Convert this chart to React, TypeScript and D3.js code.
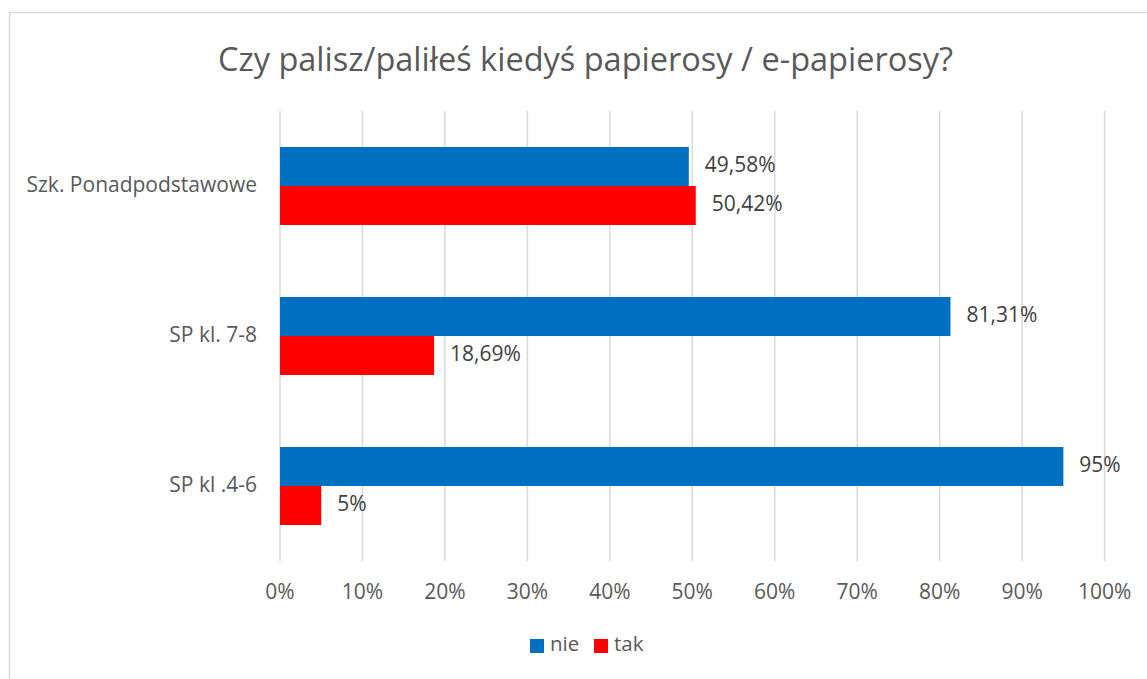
import React from "react";
import * as d3 from "d3";

const title = "Czy palisz/paliłeś kiedyś papierosy / e-papierosy?";
const categories = ["Szk. Ponadpodstawowe", "SP kl. 7-8", "SP kl .4-6"];
const seriesNames = ["nie", "tak"];
const nieValues = [49.58, 81.31, 95];
const takValues = [50.42, 18.69, 5];
const nieLabels = ["49,58%", "81,31%", "95%"];
const takLabels = ["50,42%", "18,69%", "5%"];
const tickValues = [0, 10, 20, 30, 40, 50, 60, 70, 80, 90, 100];
const colors = ["#0070C0", "#FF0000"];

const W = 1147;
const H = 679;
const FONT = "'Open Sans', sans-serif";

export default function App() {
  const x = d3.scaleLinear().domain([0, 100]).range([280, 1104.6]);
  const y = d3.scaleBand<string>().domain(categories).range([111, 561]).padding(0);
  const inner = d3.scaleBand<string>().domain(seriesNames).range([36, 114]).padding(0);
  const values = [nieValues, takValues];
  const labels = [nieLabels, takLabels];

  return (
    <svg width={W} height={H} style={{ position: "absolute", left: 0, top: 0, background: "#fff" }} fontFamily={FONT}>
      <rect x={9.5} y={12.5} width={W} height={H} fill="#fff" stroke="#d9d9d9" strokeWidth={1.5} />
      <text x={585.5} y={62} textAnchor="middle" dominantBaseline="middle" fontSize={32.5} fill="#595959">{title}</text>
      {tickValues.map((t) => (
        <g key={t}>
          <line x1={x(t)} x2={x(t)} y1={111} y2={561} stroke="#d9d9d9" strokeWidth={1.5} />
          <text x={x(t)} y={593} textAnchor="middle" dominantBaseline="middle" fontSize={21} fill="#595959">{t}%</text>
        </g>
      ))}
      {categories.map((c, i) => (
        <g key={c} transform={`translate(0,${y(c)})`}>
          <text x={257} y={y.bandwidth() / 2} textAnchor="end" dominantBaseline="middle" fontSize={21} fill="#595959">{c}</text>
          {seriesNames.map((s, j) => (
            <g key={s}>
              <rect x={x(0)} y={inner(s)} width={x(values[j][i]) - x(0)} height={inner.bandwidth()} fill={colors[j]} />
              <text x={x(values[j][i]) + 16} y={(inner(s) as number) + inner.bandwidth() / 2} dominantBaseline="middle" fontSize={21} fill="#404040">{labels[j][i]}</text>
            </g>
          ))}
        </g>
      ))}
      {seriesNames.map((s, j) => (
        <g key={s} transform={`translate(${530 + j * 64},639)`}>
          <rect x={0} y={0} width={14} height={14} fill={colors[j]} />
          <text x={20} y={7} dominantBaseline="middle" fontSize={20.5} fill="#595959">{s}</text>
        </g>
      ))}
    </svg>
  );
}
